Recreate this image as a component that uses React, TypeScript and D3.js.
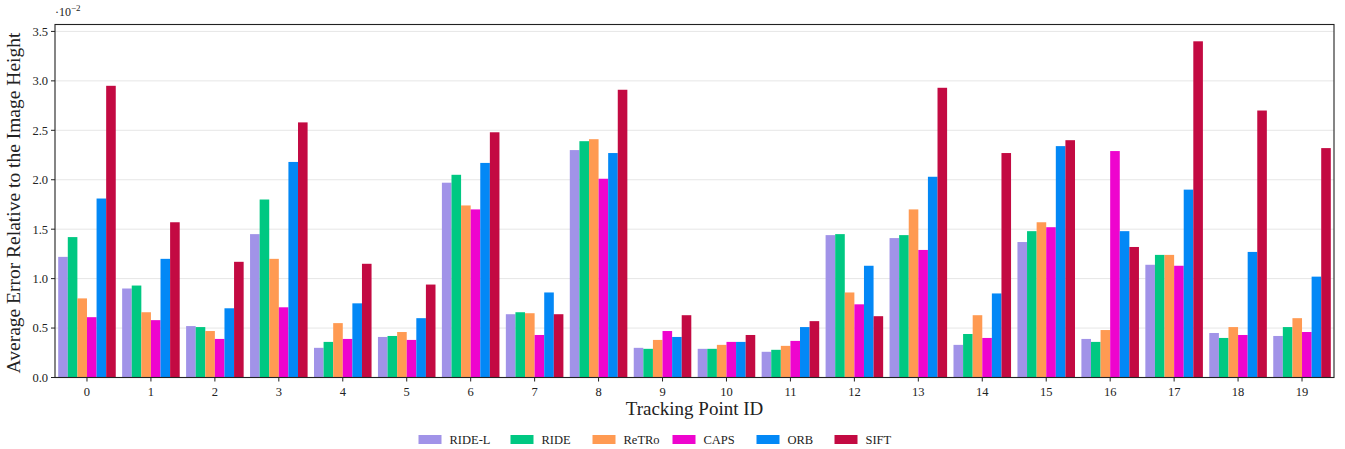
import React from "react";
import * as d3 from "d3";

const categories = Array.from({ length: 20 }, (_, i) => String(i));
const seriesNames = ["RIDE-L", "RIDE", "ReTRo", "CAPS", "ORB", "SIFT"];
const colors = ["#A193E8", "#00C882", "#FF9A52", "#EE04CE", "#0388F6", "#C30A42"];

const rideL = [1.22, 0.9, 0.52, 1.45, 0.3, 0.41, 1.97, 0.64, 2.3, 0.3, 0.29, 0.26, 1.44, 1.41, 0.33, 1.37, 0.39, 1.14, 0.45, 0.42];
const ride = [1.42, 0.93, 0.51, 1.8, 0.36, 0.42, 2.05, 0.66, 2.39, 0.29, 0.29, 0.28, 1.45, 1.44, 0.44, 1.48, 0.36, 1.24, 0.4, 0.51];
const retro = [0.8, 0.66, 0.47, 1.2, 0.55, 0.46, 1.74, 0.65, 2.41, 0.38, 0.33, 0.32, 0.86, 1.7, 0.63, 1.57, 0.48, 1.24, 0.51, 0.6];
const caps = [0.61, 0.58, 0.39, 0.71, 0.39, 0.38, 1.7, 0.43, 2.01, 0.47, 0.36, 0.37, 0.74, 1.29, 0.4, 1.52, 2.29, 1.13, 0.43, 0.46];
const orb = [1.81, 1.2, 0.7, 2.18, 0.75, 0.6, 2.17, 0.86, 2.27, 0.41, 0.36, 0.51, 1.13, 2.03, 0.85, 2.34, 1.48, 1.9, 1.27, 1.02];
const sift = [2.95, 1.57, 1.17, 2.58, 1.15, 0.94, 2.48, 0.64, 2.91, 0.63, 0.43, 0.57, 0.62, 2.93, 2.27, 2.4, 1.32, 3.4, 2.7, 2.32];
const seriesValues = [rideL, ride, retro, caps, orb, sift];
const yTicks = [0, 0.5, 1.0, 1.5, 2.0, 2.5, 3.0, 3.5];

const FONT = "'Liberation Serif', 'DejaVu Serif', serif";

export default function App() {
  const W = 1345, H = 449;
  const left = 55, right = 1334, top = 24.5, bottom = 377.5;
  const yMax = 3.4 * 1.05;
  const x = d3.scaleLinear().domain([-0.5, categories.length - 0.5]).range([left, right]);
  const y = d3.scaleLinear().domain([0, yMax]).range([bottom, top]);
  const barW = 0.15;
  const n = seriesNames.length;

  // legend layout
  const legendFont = 12.5;
  const labelWidths = [38, 28, 26, 30, 24, 25];
  const patchW = 23, gapPT = 8, gapItem = 23;
  const widths = labelWidths.map((tw) => patchW + gapPT + tw);
  const total = widths.reduce((a, b) => a + b, 0) + gapItem * (n - 1);
  let lx = W / 2 - 18 - total / 2;
  const legendX = widths.map((w) => {
    const v = lx;
    lx += w + gapItem;
    return v;
  });

  return (
    <svg width={W} height={H} style={{ position: "absolute", left: 0, top: 0, background: "#fff" }} fontFamily={FONT}>
      {yTicks.map((t) => (
        <line key={"g" + t} x1={left} x2={right} y1={y(t)} y2={y(t)} stroke="#e6e6e6" strokeWidth={1} />
      ))}
      {seriesValues.map((vals, si) =>
        vals.map((v, ci) => (
          <rect
            key={si + "-" + ci}
            x={x(ci - 0.45 + si * barW)}
            width={x(barW) - x(0)}
            y={y(v)}
            height={y(0) - y(v)}
            fill={colors[si]}
          />
        ))
      )}
      <rect x={left} y={top} width={right - left} height={bottom - top} fill="none" stroke="#222" strokeWidth={1.1} />
      {yTicks.map((t) => (
        <g key={"yt" + t}>
          <line x1={left - 4} x2={left} y1={y(t)} y2={y(t)} stroke="#222" />
          <text x={left - 7} y={y(t)} dy="0.35em" textAnchor="end" fontSize={12.5} fill="#222">
            {t.toFixed(1)}
          </text>
        </g>
      ))}
      {categories.map((c, i) => (
        <g key={"xt" + c}>
          <line x1={x(i)} x2={x(i)} y1={bottom} y2={bottom + 4} stroke="#222" />
          <text x={x(i)} y={bottom + 18} textAnchor="middle" fontSize={12.5} fill="#222">
            {c}
          </text>
        </g>
      ))}
      <text x={left} y={16} fontSize={12} fill="#222">
        {"·10"}
        <tspan dy={-5} fontSize={9}>{"−2"}</tspan>
      </text>
      <text
        transform={`translate(20,${(top + bottom) / 2 + 2}) rotate(-90)`}
        textAnchor="middle"
        fontSize={19.5}
        fill="#222"
      >
        Average Error Relative to the Image Height
      </text>
      <text x={(left + right) / 2} y={415} textAnchor="middle" fontSize={19} fill="#222">
        Tracking Point ID
      </text>
      {seriesNames.map((s, i) => (
        <g key={"lg" + s}>
          <rect x={legendX[i]} y={435} width={patchW} height={9} fill={colors[i]} />
          <text x={legendX[i] + patchW + gapPT} y={444} fontSize={legendFont} fill="#222">
            {s}
          </text>
        </g>
      ))}
    </svg>
  );
}
